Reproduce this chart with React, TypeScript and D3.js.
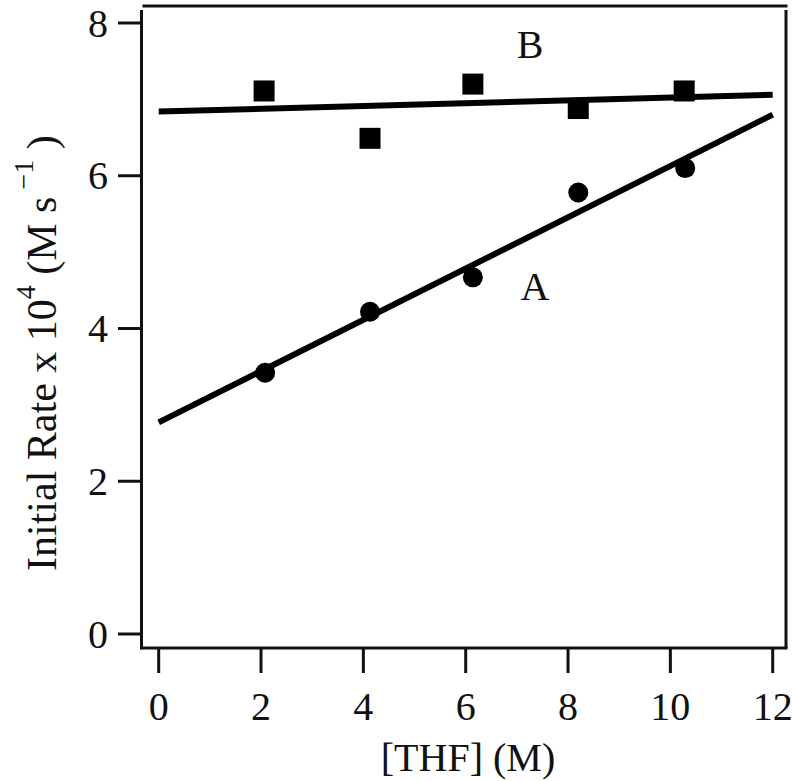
import React from "react";
import * as d3 from "d3";

const xTicks = [0, 2, 4, 6, 8, 10, 12];
const yTicks = [0, 2, 4, 6, 8];
const thfA = [2.08, 4.13, 6.14, 8.2, 10.29];
const rateA = [3.42, 4.22, 4.67, 5.78, 6.1];
const thfB = [2.06, 4.13, 6.14, 8.2, 10.27];
const rateB = [7.11, 6.49, 7.2, 6.88, 7.11];
const fitA = [[0, 2.77], [12, 6.8]];
const fitB = [[0, 6.84], [12, 7.06]];

const FONT = "'Liberation Serif', 'Times New Roman', serif";

export default function App() {
  const x = d3.scaleLinear().domain([0, 12]).range([158.7, 772.7]);
  const y = d3.scaleLinear().domain([0, 8]).range([634, 23]);
  const line = d3
    .line<number[]>()
    .x((d) => x(d[0]))
    .y((d) => y(d[1]));
  const left = 141.5;
  const bottom = 648;
  const right = 786;
  const top = 6;
  const sq = 21;
  return (
    <svg
      width={792}
      height={781}
      style={{ position: "absolute", left: 0, top: 0, background: "#fff" }}
      fontFamily={FONT}
    >
      <rect width={792} height={781} fill="#fff" />
      {/* frame */}
      <line x1={left} x2={left} y1={10} y2={bottom + 1.5} stroke="#111" strokeWidth={3} />
      <line x1={left} x2={right + 1.5} y1={bottom} y2={bottom} stroke="#111" strokeWidth={3} />
      <line x1={left + 1} x2={right + 1.5} y1={top} y2={top} stroke="#111" strokeWidth={3} />
      <line x1={right} x2={right} y1={10} y2={bottom} stroke="#111" strokeWidth={3} />
      {/* y ticks */}
      {yTicks.map((t) => (
        <g key={"y" + t}>
          <line x1={118} x2={left} y1={y(t)} y2={y(t)} stroke="#111" strokeWidth={3} />
          <text x={108} y={y(t) + 13.5} fontSize={40} textAnchor="end" fill="#111">
            {t}
          </text>
        </g>
      ))}
      {/* x ticks */}
      {xTicks.map((t) => (
        <g key={"x" + t}>
          <line x1={x(t)} x2={x(t)} y1={bottom} y2={673} stroke="#111" strokeWidth={3} />
          <text x={x(t)} y={720} fontSize={40} textAnchor="middle" fill="#111">
            {t}
          </text>
        </g>
      ))}
      {/* fit lines */}
      <path d={line(fitA) || ""} fill="none" stroke="#000" strokeWidth={6} />
      <path d={line(fitB) || ""} fill="none" stroke="#000" strokeWidth={6} />
      {/* points */}
      {thfA.map((v, i) => (
        <circle key={"a" + i} cx={x(v)} cy={y(rateA[i])} r={10} fill="#000" />
      ))}
      {thfB.map((v, i) => (
        <rect
          key={"b" + i}
          x={x(v) - sq / 2}
          y={y(rateB[i]) - sq / 2}
          width={sq}
          height={sq}
          fill="#000"
        />
      ))}
      {/* series labels */}
      <text x={530} y={58} fontSize={40} textAnchor="middle" fill="#111">
        B
      </text>
      <text x={535} y={300} fontSize={40} textAnchor="middle" fill="#111">
        A
      </text>
      {/* axis titles */}
      <text x={468} y={771} fontSize={40} textAnchor="middle" fill="#111">
        [THF] (M)
      </text>
      <text transform="translate(56,571) rotate(-90)" fontSize={42} fill="#111">
        Initial Rate x 10
        <tspan fontSize={28} dy={-21}>4</tspan>
        <tspan dy={21}> (M s</tspan>
        <tspan fontSize={28} dy={-23}> −1</tspan>
        <tspan dy={23}>  )</tspan>
      </text>
    </svg>
  );
}
